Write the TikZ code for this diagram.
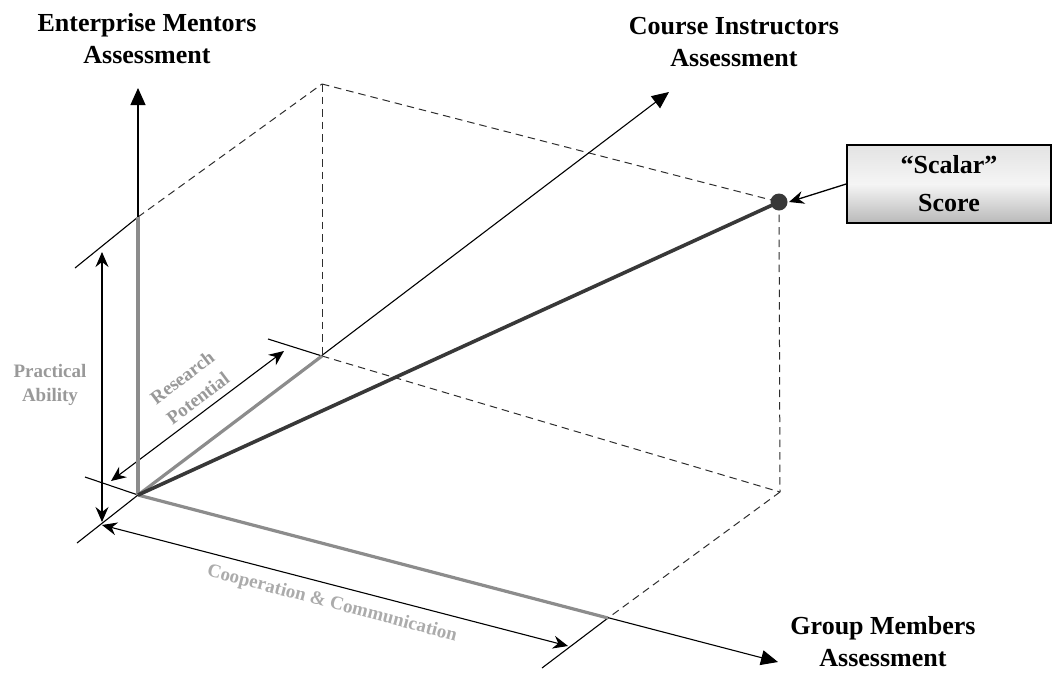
\documentclass[tikz,border=0pt]{standalone}
\usepackage{fontspec}
\setmainfont{Liberation Serif}
\usetikzlibrary{arrows.meta}
\definecolor{dashc}{HTML}{2E2E2E}
\definecolor{grayline}{HTML}{8C8C8C}
\definecolor{darkline}{HTML}{383838}
\definecolor{labgray}{HTML}{999999}
\definecolor{labgrayl}{HTML}{ABABAB}
\begin{document}
\begin{tikzpicture}[x=1pt,y=-1pt,
  dashline/.style={dashc, line width=1pt, dash pattern=on 7.5pt off 5pt},
  axisline/.style={black, line width=1.1pt, -{Triangle[length=17pt,width=15pt]}},
  tickline/.style={black, line width=1.1pt},
  dimarrow/.style={black, line width=1.1pt, {Stealth[length=15pt,width=13pt,inset=5pt]}-{Stealth[length=15pt,width=13pt,inset=5pt]}},
  compline/.style={grayline, line width=3.2pt},
  scoreline/.style={darkline, line width=3.6pt},
  axislabel/.style={font=\bfseries\fontsize{26}{32}\selectfont, align=center},
  dimlabel/.style={font=\bfseries\fontsize{19}{24}\selectfont, align=center, text=labgray},
  scorebox/.style={draw=black, line width=1.6pt, minimum width=204pt, minimum height=78pt,
    top color=gray!22, bottom color=gray!55, middle color=gray!8,
    font=\bfseries\fontsize{26}{38}\selectfont, align=center},
  scorearrow/.style={black, line width=1.3pt, -{Stealth[length=15pt,width=13pt,inset=5pt]}},
]
\useasboundingbox (0,0) rectangle (1053,673);
% key points
\coordinate (O) at (138,495);
\coordinate (A) at (138,217);
\coordinate (R) at (322,356);
\coordinate (G) at (608,618);
\coordinate (T) at (322,84);
\coordinate (S) at (779,202);
\coordinate (B) at (780,492);
% axis tips
\coordinate (AT) at (138,88);
\coordinate (CT) at (669,92);
\coordinate (GT) at (778,662);
% tick ends
\coordinate (At) at (75,268);
\coordinate (Ot1) at (77,543);
\coordinate (Ot2) at (85,477);
\coordinate (Rt) at (268,339);
\coordinate (Gt) at (542,668);
% dimension arrow ends
\coordinate (P1) at (102,522);
\coordinate (P2) at (102,252);
\coordinate (RP1) at (111,481);
\coordinate (RP2) at (284,351);
\coordinate (C1) at (102,525);
\coordinate (C2) at (568,646);

% dashed box
\draw[dashline] (A) -- (T);
\draw[dashline] (T) -- (S);
\draw[dashline] (T) -- (R);
\draw[dashline] (S) -- (B);
\draw[dashline] (R) -- (B);
\draw[dashline] (B) -- (G);

% ticks
\draw[tickline] (At) -- (A);
\draw[tickline] (Ot1) -- (O);
\draw[tickline] (Ot2) -- (O);
\draw[tickline] (Rt) -- (R);
\draw[tickline] (Gt) -- (G);

% axes
\draw[axisline] (O) -- (AT);
\draw[axisline] (O) -- (CT);
\draw[axisline] (O) -- (GT);

% dimension arrows
\draw[dimarrow] (P1) -- (P2);
\draw[dimarrow] (RP1) -- (RP2);
\draw[dimarrow] (C1) -- (C2);

% component vectors
\draw[compline] (O) -- (A);
\draw[compline] (O) -- (R);
\draw[compline] (O) -- (G);
\draw[scoreline] (O) -- (S);
\fill[darkline] (S) circle (8.5pt);

% labels
\node[axislabel] (em) at (147,39) {Enterprise Mentors\\Assessment};
\node[axislabel] (ci) at (734,42) {Course Instructors\\Assessment};
\node[axislabel] (gm) at (883,642) {Group Members\\Assessment};
\node[dimlabel] (pa) at (50,385) {Practical\\Ability};
\node[dimlabel, font=\bfseries\fontsize{19}{26}\selectfont, rotate=37] (rp) at (190,388) {Research\\Potential};
\node[dimlabel, text=labgrayl, rotate=-14.7] (cc) at (332,604) {Cooperation \& Communication};

% scalar score box
\node[scorebox] (box) at (949,184) {“Scalar”\\Score};
\draw[scorearrow] (box.west) -- ([xshift=10pt]S);
\end{tikzpicture}
\end{document}
